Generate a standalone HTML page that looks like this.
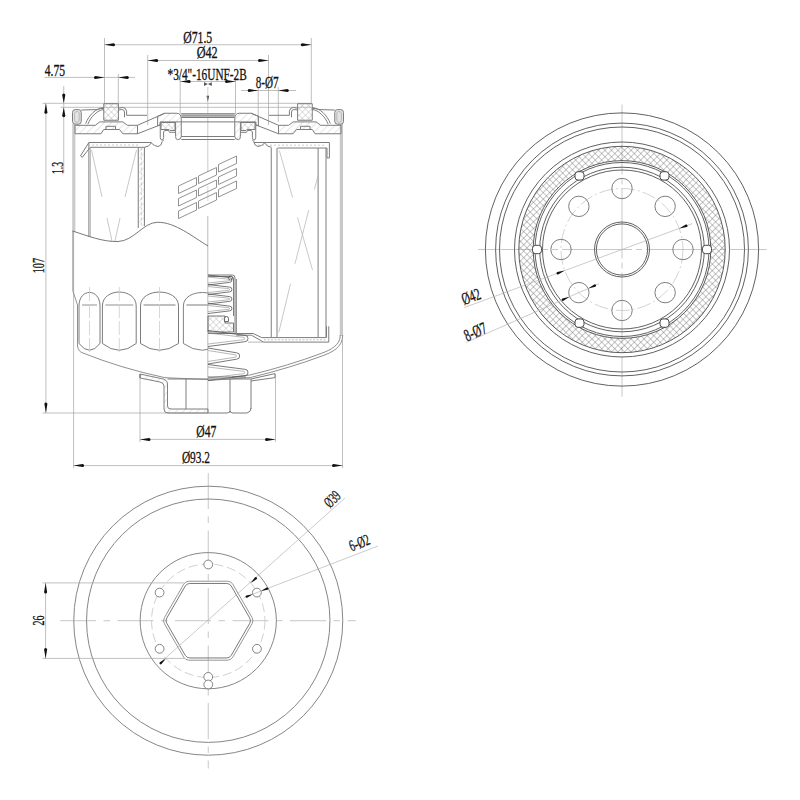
<!DOCTYPE html>
<html><head><meta charset="utf-8"><style>
html,body{margin:0;padding:0;background:#fff;width:800px;height:800px;overflow:hidden}
svg{display:block}
text{font-family:"Liberation Serif",serif;fill:#111;stroke:#111;stroke-width:0.3px}
</style></head><body>
<svg width="800" height="800" viewBox="0 0 800 800">
<rect width="800" height="800" fill="#fff"/>
<defs>
<pattern id="hh" patternUnits="userSpaceOnUse" width="5" height="5" patternTransform="rotate(45)"><line x1="0" y1="0" x2="0" y2="5" stroke="#a8a8a8" stroke-width="0.6"/></pattern>
<pattern id="xh" patternUnits="userSpaceOnUse" width="4.5" height="4.5" patternTransform="rotate(45)"><line x1="0" y1="0" x2="0" y2="4.5" stroke="#999" stroke-width="0.6"/><line x1="0" y1="0" x2="4.5" y2="0" stroke="#999" stroke-width="0.6"/></pattern>
<pattern id="xh2" patternUnits="userSpaceOnUse" width="4.6" height="4.6" patternTransform="rotate(45)"><line x1="0" y1="0" x2="0" y2="4.6" stroke="#6a6a6a" stroke-width="0.75"/><line x1="0" y1="0" x2="4.6" y2="0" stroke="#6a6a6a" stroke-width="0.75"/></pattern>
</defs>
<line x1="104.50" y1="38.00" x2="104.50" y2="103.00" stroke="#aaaaaa" stroke-width="0.75" fill="none"/>
<line x1="311.30" y1="38.00" x2="311.30" y2="103.00" stroke="#aaaaaa" stroke-width="0.75" fill="none"/>
<line x1="104.50" y1="44.75" x2="311.30" y2="44.75" stroke="#aaaaaa" stroke-width="0.75" fill="none"/>
<path d="M104.50,44.75 L113.50,43.25 A1.50,1.50 0 0 1 113.50,46.25 Z" fill="#111"/>
<path d="M311.30,44.75 L302.30,46.25 A1.50,1.50 0 0 1 302.30,43.25 Z" fill="#111"/>
<text x="183.2" y="42.5" font-size="17" textLength="29" lengthAdjust="spacingAndGlyphs" text-anchor="start">Ø71.5</text>
<line x1="147.70" y1="55.00" x2="147.70" y2="125.00" stroke="#aaaaaa" stroke-width="0.75" fill="none"/>
<line x1="268.50" y1="55.00" x2="268.50" y2="125.00" stroke="#aaaaaa" stroke-width="0.75" fill="none"/>
<line x1="147.70" y1="60.50" x2="268.50" y2="60.50" stroke="#aaaaaa" stroke-width="0.75" fill="none"/>
<path d="M147.70,60.50 L156.70,59.00 A1.50,1.50 0 0 1 156.70,62.00 Z" fill="#111"/>
<path d="M268.50,60.50 L259.50,62.00 A1.50,1.50 0 0 1 259.50,59.00 Z" fill="#111"/>
<text x="196.7" y="58.2" font-size="17" textLength="21" lengthAdjust="spacingAndGlyphs" text-anchor="start">Ø42</text>
<line x1="180.20" y1="78.00" x2="180.20" y2="114.00" stroke="#aaaaaa" stroke-width="0.75" fill="none"/>
<line x1="235.50" y1="78.00" x2="235.50" y2="114.00" stroke="#aaaaaa" stroke-width="0.75" fill="none"/>
<line x1="180.20" y1="81.50" x2="235.50" y2="81.50" stroke="#aaaaaa" stroke-width="0.75" fill="none"/>
<path d="M180.20,81.50 L189.20,80.00 A1.50,1.50 0 0 1 189.20,83.00 Z" fill="#111"/>
<path d="M235.50,81.50 L226.50,83.00 A1.50,1.50 0 0 1 226.50,80.00 Z" fill="#111"/>
<text x="167.5" y="79.7" font-size="17" textLength="79.3" lengthAdjust="spacingAndGlyphs" text-anchor="start">*3/4"-16UNF-2B</text>
<line x1="44.40" y1="77.40" x2="135.00" y2="77.40" stroke="#aaaaaa" stroke-width="0.75" fill="none"/>
<line x1="118.30" y1="74.00" x2="118.30" y2="103.00" stroke="#aaaaaa" stroke-width="0.75" fill="none"/>
<path d="M104.50,77.40 L95.50,78.90 A1.50,1.50 0 0 1 95.50,75.90 Z" fill="#111"/>
<path d="M118.30,77.40 L127.30,75.90 A1.50,1.50 0 0 1 127.30,78.90 Z" fill="#111"/>
<text x="44.75" y="76" font-size="17" textLength="20.3" lengthAdjust="spacingAndGlyphs" text-anchor="start">4.75</text>
<line x1="241.00" y1="90.50" x2="296.00" y2="90.50" stroke="#aaaaaa" stroke-width="0.75" fill="none"/>
<line x1="258.20" y1="87.00" x2="258.20" y2="122.00" stroke="#aaaaaa" stroke-width="0.75" fill="none"/>
<line x1="278.30" y1="87.00" x2="278.30" y2="122.00" stroke="#aaaaaa" stroke-width="0.75" fill="none"/>
<path d="M258.20,90.50 L249.20,92.00 A1.50,1.50 0 0 1 249.20,89.00 Z" fill="#111"/>
<path d="M278.30,90.50 L287.30,89.00 A1.50,1.50 0 0 1 287.30,92.00 Z" fill="#111"/>
<text x="255.8" y="88.2" font-size="17" textLength="22.9" lengthAdjust="spacingAndGlyphs" text-anchor="start">8-Ø7</text>
<path d="M204,82.3 L207.9,84.1 L211.8,82.3 L211.8,85.9 L207.9,84.1 L204,85.9 Z" fill="#555"/>
<line x1="207.80" y1="87.00" x2="207.80" y2="95.00" stroke="#c8c8c8" stroke-width="0.8"/>
<path d="M206.6,95.8 L209,95.8 L207.8,102 Z" fill="#111"/>
<line x1="42.50" y1="103.30" x2="311.50" y2="103.30" stroke="#aaaaaa" stroke-width="0.75" fill="none"/>
<line x1="60.60" y1="107.30" x2="311.50" y2="107.30" stroke="#aaaaaa" stroke-width="0.75" fill="none"/>
<line x1="45.90" y1="103.30" x2="45.90" y2="413.00" stroke="#aaaaaa" stroke-width="0.75" fill="none"/>
<path d="M45.90,103.30 L47.40,112.30 A1.50,1.50 0 0 1 44.40,112.30 Z" fill="#111"/>
<path d="M45.90,413.00 L44.40,404.00 A1.50,1.50 0 0 1 47.40,404.00 Z" fill="#111"/>
<line x1="42.50" y1="413.00" x2="208.00" y2="413.00" stroke="#aaaaaa" stroke-width="0.75" fill="none"/>
<text x="44.25" y="273.3" font-size="17" textLength="15.3" lengthAdjust="spacingAndGlyphs" transform="rotate(-90 44.25 273.3)" text-anchor="start">107</text>
<line x1="63.75" y1="86.00" x2="63.75" y2="173.00" stroke="#aaaaaa" stroke-width="0.75" fill="none"/>
<path d="M63.75,103.20 L62.20,95.00 A1.55,1.55 0 0 1 65.30,95.00 Z" fill="#111"/>
<path d="M63.75,107.40 L65.30,115.60 A1.55,1.55 0 0 1 62.20,115.60 Z" fill="#111"/>
<text x="63" y="174" font-size="17" textLength="12.1" lengthAdjust="spacingAndGlyphs" transform="rotate(-90 63 174)" text-anchor="start">1.3</text>
<line x1="140.00" y1="374.00" x2="140.00" y2="442.00" stroke="#aaaaaa" stroke-width="0.75" fill="none"/>
<line x1="275.50" y1="374.00" x2="275.50" y2="442.00" stroke="#aaaaaa" stroke-width="0.75" fill="none"/>
<line x1="140.00" y1="439.40" x2="275.50" y2="439.40" stroke="#aaaaaa" stroke-width="0.75" fill="none"/>
<path d="M140.00,439.40 L149.00,437.90 A1.50,1.50 0 0 1 149.00,440.90 Z" fill="#111"/>
<path d="M275.50,439.40 L266.50,440.90 A1.50,1.50 0 0 1 266.50,437.90 Z" fill="#111"/>
<text x="196.25" y="437.25" font-size="17" textLength="20" lengthAdjust="spacingAndGlyphs" text-anchor="start">Ø47</text>
<line x1="73.60" y1="231.00" x2="73.60" y2="468.00" stroke="#aaaaaa" stroke-width="0.75" fill="none"/>
<line x1="342.50" y1="340.00" x2="342.50" y2="468.00" stroke="#aaaaaa" stroke-width="0.75" fill="none"/>
<line x1="73.60" y1="465.60" x2="342.50" y2="465.60" stroke="#aaaaaa" stroke-width="0.75" fill="none"/>
<path d="M73.60,465.60 L82.60,464.10 A1.50,1.50 0 0 1 82.60,467.10 Z" fill="#111"/>
<path d="M342.50,465.60 L333.50,467.10 A1.50,1.50 0 0 1 333.50,464.10 Z" fill="#111"/>
<text x="181.9" y="463.1" font-size="17" textLength="28.1" lengthAdjust="spacingAndGlyphs" text-anchor="start">Ø93.2</text>
<line x1="207.80" y1="95.00" x2="207.80" y2="172.00" stroke="#bdbdbd" stroke-width="0.8"/>
<line x1="207.80" y1="186.00" x2="207.80" y2="201.00" stroke="#cfcfcf" stroke-width="0.8"/>
<line x1="207.80" y1="216.00" x2="207.80" y2="413.00" stroke="#a8a8a8" stroke-width="0.8"/>
<rect x="72.2" y="124" width="3.2" height="107.5" fill="#cbcbcb"/>
<path d="M72.9,231 L72.9,291 L77.5,305 L77.5,346 Q78.5,352 83,353 Q120,368 165,377.7 L208,379.5" stroke="#8a8a8a" stroke-width="0.95" fill="none"/>
<rect x="339.8" y="124" width="3.2" height="212" fill="#c8c8c8"/>
<path d="M342.6,335 L342.6,336 C342.6,347 332,352.5 322.5,355.8 Q290,368 250.6,377.5 L208,380.5" stroke="#888" stroke-width="0.95" fill="none"/>
<path d="M340.2,335 L340.2,336 C340.2,345 330.5,350 321.5,353.3 Q289,365.5 250,375 L232,377" stroke="#888" stroke-width="0.95" fill="none"/>
<path d="M81.25,112.50 Q81.25,109.60 78.50,109.60 L75.30,109.60 Q72.50,109.60 72.50,112.50 L72.50,121.40 Q72.50,124.20 75.30,124.20 L78.50,124.20 Q81.25,124.20 81.25,121.40 Z" fill="#e6e6e6" stroke="none"/>
<path d="M81.25,112.50 Q81.25,109.60 78.50,109.60 L75.30,109.60 Q72.50,109.60 72.50,112.50 L72.50,121.40 Q72.50,124.20 75.30,124.20 L78.50,124.20 Q81.25,124.20 81.25,121.40 Z" stroke="#7c7c7c" stroke-width="1" fill="none"/>
<path d="M79.20,113.50 Q79.20,111.60 77.50,111.60 L76.30,111.60 Q74.60,111.60 74.60,113.50 L74.60,120.30 Q74.60,122.20 76.30,122.20 L77.50,122.20 Q79.20,122.20 79.20,120.30 Z" fill="#e4e4e4" stroke="none"/>
<path d="M79.20,113.50 Q79.20,111.60 77.50,111.60 L76.30,111.60 Q74.60,111.60 74.60,113.50 L74.60,120.30 Q74.60,122.20 76.30,122.20 L77.50,122.20 Q79.20,122.20 79.20,120.30 Z" stroke="#aaa" stroke-width="0.8" fill="none"/>
<path d="M81.25,110.00 L97.00,109.60 Q101.00,108.20 103.75,108.20" stroke="#7c7c7c" stroke-width="1" fill="none"/>
<path d="M103.75,107.70 C96.00,108.00 89.00,115.00 85.60,123.60" stroke="#7c7c7c" stroke-width="1" fill="none"/>
<path d="M103.75,109.60 C97.50,110.00 91.00,116.50 87.80,124.20" stroke="#7c7c7c" stroke-width="1" fill="none"/>
<path d="M103.75,103.70 L118.40,103.70 L118.40,120.25 L103.75,120.25 Z" fill="url(#xh)" stroke="none"/>
<path d="M103.75,103.70 L118.40,103.70 L118.40,120.25 L103.75,120.25 Z" stroke="#7c7c7c" stroke-width="1" fill="none"/>
<path d="M118.40,108.30 L122.50,107.40 Q126.30,107.60 126.60,111.20 L126.60,115.30 L147.00,115.30" stroke="#7c7c7c" stroke-width="1" fill="none"/>
<path d="M118.40,110.20 L121.80,109.40 Q124.30,109.60 124.50,112.00 L124.50,117.30" stroke="#7c7c7c" stroke-width="1" fill="none"/>
<path d="M103.75,108.30 L101.50,108.80" stroke="#7c7c7c" stroke-width="1" fill="none"/>
<path d="M75.00,125.30 L95.30,125.30 L99.80,121.90 L122.90,121.90 L127.40,125.30 L137.50,125.30 L137.50,133.75 L122.90,133.75 L119.50,129.50 L103.75,129.50 L101.00,133.75 L75.00,133.75 Z" fill="url(#hh)" stroke="none"/>
<path d="M75.00,125.30 L95.30,125.30 L99.80,121.90 L122.90,121.90 L127.40,125.30 L137.50,125.30 L137.50,133.75 L122.90,133.75 L119.50,129.50 L103.75,129.50 L101.00,133.75 L75.00,133.75 Z" stroke="#7c7c7c" stroke-width="1" fill="none"/>
<path d="M106.00,129.50 L106.00,126.30 L115.50,126.30 L115.50,129.50" stroke="#7c7c7c" stroke-width="1" fill="none"/>
<path d="M137.50,125.30 L164.75,113.25" stroke="#7c7c7c" stroke-width="1" fill="none"/>
<path d="M137.50,133.75 L160.25,124.90" stroke="#7c7c7c" stroke-width="1" fill="none"/>
<path d="M157.60,116.25 L164.75,113.25 L176.75,113.25 Q181.25,113.50 181.25,118.50 L181.25,136.50 Q181.00,139.70 177.50,139.70 Q175.60,139.50 175.60,136.50 L175.60,121.90 L160.25,121.90 L160.25,124.90 L157.60,125.90 Z" fill="url(#hh)" stroke="none"/>
<path d="M157.60,116.25 L164.75,113.25 L176.75,113.25 Q181.25,113.50 181.25,118.50 L181.25,136.50 Q181.00,139.70 177.50,139.70 Q175.60,139.50 175.60,136.50 L175.60,121.90 L160.25,121.90 L160.25,124.90 L157.60,125.90 Z" stroke="#7c7c7c" stroke-width="1" fill="none"/>
<path d="M160.25,121.90 L160.25,137.50 Q160.50,140.00 162.00,140.00 Q163.60,140.00 163.60,137.50 L163.60,132.00 Q164.00,130.40 166.00,130.40 L168.50,130.40 L169.50,132.30 L175.60,132.30" stroke="#7c7c7c" stroke-width="1" fill="none"/>
<path d="M161.00,122.50 L175.00,122.50 L175.00,130.50 L170.00,130.50 L169.00,129.50 L161.00,129.50 Z" fill="url(#xh)" stroke="none"/>
<path d="M161.00,122.50 L175.00,122.50 L175.00,130.50 L170.00,130.50 L169.00,129.50 L161.00,129.50 Z" stroke="#7c7c7c" stroke-width="1" fill="none"/>
<path d="M144.40,147.30 Q149.00,147.00 151.30,143.00 Q154.50,146.30 158.00,146.50 Q161.60,146.00 162.20,141.50 L163.60,140.00" stroke="#7c7c7c" stroke-width="1" fill="none"/>
<path d="M138.25,142.50 L151.30,142.50" stroke="#7c7c7c" stroke-width="1" fill="none"/>
<path d="M334.75,112.50 Q334.75,109.60 337.50,109.60 L340.70,109.60 Q343.50,109.60 343.50,112.50 L343.50,121.40 Q343.50,124.20 340.70,124.20 L337.50,124.20 Q334.75,124.20 334.75,121.40 Z" fill="#e6e6e6" stroke="none"/>
<path d="M334.75,112.50 Q334.75,109.60 337.50,109.60 L340.70,109.60 Q343.50,109.60 343.50,112.50 L343.50,121.40 Q343.50,124.20 340.70,124.20 L337.50,124.20 Q334.75,124.20 334.75,121.40 Z" stroke="#7c7c7c" stroke-width="1" fill="none"/>
<path d="M336.80,113.50 Q336.80,111.60 338.50,111.60 L339.70,111.60 Q341.40,111.60 341.40,113.50 L341.40,120.30 Q341.40,122.20 339.70,122.20 L338.50,122.20 Q336.80,122.20 336.80,120.30 Z" fill="#e4e4e4" stroke="none"/>
<path d="M336.80,113.50 Q336.80,111.60 338.50,111.60 L339.70,111.60 Q341.40,111.60 341.40,113.50 L341.40,120.30 Q341.40,122.20 339.70,122.20 L338.50,122.20 Q336.80,122.20 336.80,120.30 Z" stroke="#aaa" stroke-width="0.8" fill="none"/>
<path d="M334.75,110.00 L319.00,109.60 Q315.00,108.20 312.25,108.20" stroke="#7c7c7c" stroke-width="1" fill="none"/>
<path d="M312.25,107.70 C320.00,108.00 327.00,115.00 330.40,123.60" stroke="#7c7c7c" stroke-width="1" fill="none"/>
<path d="M312.25,109.60 C318.50,110.00 325.00,116.50 328.20,124.20" stroke="#7c7c7c" stroke-width="1" fill="none"/>
<path d="M312.25,103.70 L297.60,103.70 L297.60,120.25 L312.25,120.25 Z" fill="url(#xh)" stroke="none"/>
<path d="M312.25,103.70 L297.60,103.70 L297.60,120.25 L312.25,120.25 Z" stroke="#7c7c7c" stroke-width="1" fill="none"/>
<path d="M297.60,108.30 L293.50,107.40 Q289.70,107.60 289.40,111.20 L289.40,115.30 L269.00,115.30" stroke="#7c7c7c" stroke-width="1" fill="none"/>
<path d="M297.60,110.20 L294.20,109.40 Q291.70,109.60 291.50,112.00 L291.50,117.30" stroke="#7c7c7c" stroke-width="1" fill="none"/>
<path d="M312.25,108.30 L314.50,108.80" stroke="#7c7c7c" stroke-width="1" fill="none"/>
<path d="M341.00,125.30 L320.70,125.30 L316.20,121.90 L293.10,121.90 L288.60,125.30 L278.50,125.30 L278.50,133.75 L293.10,133.75 L296.50,129.50 L312.25,129.50 L315.00,133.75 L341.00,133.75 Z" fill="url(#hh)" stroke="none"/>
<path d="M341.00,125.30 L320.70,125.30 L316.20,121.90 L293.10,121.90 L288.60,125.30 L278.50,125.30 L278.50,133.75 L293.10,133.75 L296.50,129.50 L312.25,129.50 L315.00,133.75 L341.00,133.75 Z" stroke="#7c7c7c" stroke-width="1" fill="none"/>
<path d="M310.00,129.50 L310.00,126.30 L300.50,126.30 L300.50,129.50" stroke="#7c7c7c" stroke-width="1" fill="none"/>
<path d="M278.50,125.30 L251.25,113.25" stroke="#7c7c7c" stroke-width="1" fill="none"/>
<path d="M278.50,133.75 L255.75,124.90" stroke="#7c7c7c" stroke-width="1" fill="none"/>
<path d="M258.40,116.25 L251.25,113.25 L239.25,113.25 Q234.75,113.50 234.75,118.50 L234.75,136.50 Q235.00,139.70 238.50,139.70 Q240.40,139.50 240.40,136.50 L240.40,121.90 L255.75,121.90 L255.75,124.90 L258.40,125.90 Z" fill="url(#hh)" stroke="none"/>
<path d="M258.40,116.25 L251.25,113.25 L239.25,113.25 Q234.75,113.50 234.75,118.50 L234.75,136.50 Q235.00,139.70 238.50,139.70 Q240.40,139.50 240.40,136.50 L240.40,121.90 L255.75,121.90 L255.75,124.90 L258.40,125.90 Z" stroke="#7c7c7c" stroke-width="1" fill="none"/>
<path d="M255.75,121.90 L255.75,137.50 Q255.50,140.00 254.00,140.00 Q252.40,140.00 252.40,137.50 L252.40,132.00 Q252.00,130.40 250.00,130.40 L247.50,130.40 L246.50,132.30 L240.40,132.30" stroke="#7c7c7c" stroke-width="1" fill="none"/>
<path d="M255.00,122.50 L241.00,122.50 L241.00,130.50 L246.00,130.50 L247.00,129.50 L255.00,129.50 Z" fill="url(#xh)" stroke="none"/>
<path d="M255.00,122.50 L241.00,122.50 L241.00,130.50 L246.00,130.50 L247.00,129.50 L255.00,129.50 Z" stroke="#7c7c7c" stroke-width="1" fill="none"/>
<path d="M271.60,147.30 Q267.00,147.00 264.70,143.00 Q261.50,146.30 258.00,146.50 Q254.40,146.00 253.80,141.50 L252.40,140.00" stroke="#7c7c7c" stroke-width="1" fill="none"/>
<path d="M277.75,142.50 L264.70,142.50" stroke="#7c7c7c" stroke-width="1" fill="none"/>
<line x1="181.25" y1="113.50" x2="234.75" y2="113.50" stroke="#7c7c7c" stroke-width="1" fill="none"/>
<rect x="181.25" y="113.5" width="53.5" height="4" fill="#b5b5b5"/>
<line x1="181.25" y1="115.50" x2="234.75" y2="115.50" stroke="#999" stroke-width="0.7" fill="none"/>
<line x1="181.25" y1="117.50" x2="234.75" y2="117.50" stroke="#7c7c7c" stroke-width="1" fill="none"/>
<line x1="175.60" y1="121.90" x2="240.40" y2="121.90" stroke="#7c7c7c" stroke-width="1" fill="none"/>
<line x1="181.25" y1="136.50" x2="234.75" y2="136.50" stroke="#7c7c7c" stroke-width="1" fill="none"/>
<line x1="181.25" y1="139.50" x2="234.75" y2="139.50" stroke="#7c7c7c" stroke-width="1" fill="none"/>
<path d="M88.9,142.5 L151.3,142.5" stroke="#7c7c7c" stroke-width="1" fill="none"/>
<path d="M90.2,147.3 L144.4,147.3" stroke="#7c7c7c" stroke-width="1" fill="none"/>
<line x1="92.00" y1="145.00" x2="138.00" y2="145.00" stroke="#aaa" stroke-width="0.6" stroke-dasharray="2 2"/>
<path d="M88.9,142.5 L80.5,155.8 L82.3,157.3 L90.2,147.3" stroke="#7c7c7c" stroke-width="1" fill="none"/>
<line x1="88.90" y1="142.50" x2="88.90" y2="236.50" stroke="#7c7c7c" stroke-width="1" fill="none"/>
<line x1="90.40" y1="147.30" x2="90.40" y2="237.00" stroke="#aaa" stroke-width="0.8"/>
<line x1="138.25" y1="147.30" x2="138.25" y2="228.00" stroke="#7c7c7c" stroke-width="1" fill="none"/>
<line x1="144.40" y1="147.30" x2="144.40" y2="226.00" stroke="#7c7c7c" stroke-width="1" fill="none"/>
<rect x="138.6" y="147.5" width="5.5" height="79" fill="url(#hh)"/>
<line x1="141.30" y1="147.30" x2="141.30" y2="226.00" stroke="#aaa" stroke-width="0.6" stroke-dasharray="3 2"/>
<line x1="91.50" y1="150.00" x2="102.00" y2="197.00" stroke="#b0b0b0" stroke-width="0.7" fill="none"/>
<line x1="136.50" y1="150.00" x2="125.00" y2="197.00" stroke="#b0b0b0" stroke-width="0.7" fill="none"/>
<line x1="107.00" y1="218.00" x2="112.00" y2="241.00" stroke="#b0b0b0" stroke-width="0.7" fill="none"/>
<line x1="120.00" y1="218.00" x2="115.00" y2="241.00" stroke="#b0b0b0" stroke-width="0.7" fill="none"/>
<path d="M72.6,231 C88,236 103,242 118,241.5 C134,241 143,222.5 157.5,222.25 C175,222 193,237 208,246" stroke="#555" stroke-width="0.8" fill="none"/>
<path d="M178.50,186.00 L196.50,177.50 L196.50,185.00 L178.50,193.50 Z" stroke="#777" stroke-width="0.8" fill="none"/>
<path d="M178.50,198.50 L196.50,190.00 L196.50,197.50 L178.50,206.00 Z" stroke="#777" stroke-width="0.8" fill="none"/>
<path d="M178.50,211.00 L196.50,202.50 L196.50,210.00 L178.50,218.50 Z" stroke="#777" stroke-width="0.8" fill="none"/>
<path d="M198.50,176.00 L216.50,167.50 L216.50,175.00 L198.50,183.50 Z" stroke="#777" stroke-width="0.8" fill="none"/>
<path d="M198.50,188.50 L216.50,180.00 L216.50,187.50 L198.50,196.00 Z" stroke="#777" stroke-width="0.8" fill="none"/>
<path d="M198.50,201.00 L216.50,192.50 L216.50,200.00 L198.50,208.50 Z" stroke="#777" stroke-width="0.8" fill="none"/>
<path d="M218.50,164.50 L236.50,156.00 L236.50,163.50 L218.50,172.00 Z" stroke="#777" stroke-width="0.8" fill="none"/>
<path d="M218.50,177.00 L236.50,168.50 L236.50,176.00 L218.50,184.50 Z" stroke="#777" stroke-width="0.8" fill="none"/>
<path d="M218.50,189.50 L236.50,181.00 L236.50,188.50 L218.50,197.00 Z" stroke="#777" stroke-width="0.8" fill="none"/>
<path d="M253.8,142.5 L329.4,142.5 L329.4,158 L327,158 L327,148 L277.5,148" stroke="#7c7c7c" stroke-width="1" fill="none"/>
<line x1="258.00" y1="145.20" x2="326.00" y2="145.20" stroke="#aaa" stroke-width="0.6" stroke-dasharray="2 2"/>
<line x1="271.25" y1="148.00" x2="271.25" y2="337.00" stroke="#7c7c7c" stroke-width="1" fill="none"/>
<line x1="277.00" y1="148.00" x2="277.00" y2="337.00" stroke="#7c7c7c" stroke-width="1" fill="none"/>
<line x1="318.10" y1="148.00" x2="318.10" y2="337.00" stroke="#7c7c7c" stroke-width="1" fill="none"/>
<line x1="326.00" y1="148.00" x2="326.00" y2="337.00" stroke="#7c7c7c" stroke-width="1" fill="none"/>
<line x1="279.40" y1="150.60" x2="292.50" y2="197.50" stroke="#b0b0b0" stroke-width="0.7" fill="none"/>
<line x1="318.00" y1="176.00" x2="314.40" y2="189.50" stroke="#b0b0b0" stroke-width="0.7" fill="none"/>
<line x1="297.50" y1="217.50" x2="312.50" y2="270.00" stroke="#b0b0b0" stroke-width="0.7" fill="none"/>
<line x1="308.75" y1="210.00" x2="295.00" y2="263.75" stroke="#b0b0b0" stroke-width="0.7" fill="none"/>
<line x1="290.50" y1="283.75" x2="278.75" y2="332.50" stroke="#b0b0b0" stroke-width="0.7" fill="none"/>
<path d="M236.3,333.5 L253.1,333.5 L261.75,337.6 L326.5,337.6 L326.5,326.25" stroke="#7c7c7c" stroke-width="1" fill="none"/>
<path d="M236.3,335.2 L251.5,335.2 L263.6,342.1 L328.75,342.1 L328.75,326.25" stroke="#7c7c7c" stroke-width="1" fill="none"/>
<line x1="248.00" y1="342.10" x2="263.60" y2="342.10" stroke="#999" stroke-width="0.7" fill="none"/>
<line x1="264.00" y1="339.80" x2="326.00" y2="339.80" stroke="#aaa" stroke-width="0.7" stroke-dasharray="2 1.5"/>
<path d="M79,306 C79,287.9 100,287.9 100,306 L100,343.5 Q89.5,357 79,343.5 Z" stroke="#7c7c7c" stroke-width="1" fill="none"/>
<line x1="82.00" y1="305.00" x2="97.00" y2="305.00" stroke="#aaa" stroke-width="1.3"/>
<line x1="89.50" y1="287.00" x2="89.50" y2="352.00" stroke="#cdcdcd" stroke-width="0.8" stroke-dasharray="14 3"/>
<path d="M102.4,306 C102.4,287.4 136.2,287.4 136.2,306 L136.2,343.5 Q119.3,357 102.4,343.5 Z" stroke="#7c7c7c" stroke-width="1" fill="none"/>
<line x1="105.40" y1="305.00" x2="133.20" y2="305.00" stroke="#aaa" stroke-width="1.3"/>
<line x1="119.30" y1="287.00" x2="119.30" y2="352.00" stroke="#cdcdcd" stroke-width="0.8" stroke-dasharray="14 3"/>
<path d="M140.5,306 C140.5,287.4 178.5,287.4 178.5,306 L178.5,343.5 Q159.5,357 140.5,343.5 Z" stroke="#7c7c7c" stroke-width="1" fill="none"/>
<line x1="143.50" y1="305.00" x2="175.50" y2="305.00" stroke="#aaa" stroke-width="1.3"/>
<line x1="159.50" y1="287.00" x2="159.50" y2="352.00" stroke="#cdcdcd" stroke-width="0.8" stroke-dasharray="14 3"/>
<clipPath id="lc"><rect x="0" y="0" width="207.8" height="800"/></clipPath>
<path d="M183.4,306 C183.4,288 221.4,288 221.4,306 L221.4,343.5 Q202.4,357 183.4,343.5 Z" stroke="#737373" stroke-width="0.9" fill="none" clip-path="url(#lc)"/>
<line x1="186.40" y1="305.00" x2="207.80" y2="305.00" stroke="#999" stroke-width="1.3"/>
<path d="M208,275 L232.5,275 Q235,275 235,278 L235,333" stroke="#7c7c7c" stroke-width="1" fill="none"/>
<path d="M208,276.5 L231.5,276.5 Q233.5,276.5 233.5,279 L233.5,316" stroke="#7c7c7c" stroke-width="1" fill="none"/>
<line x1="236.30" y1="279.00" x2="236.30" y2="333.00" stroke="#7c7c7c" stroke-width="1" fill="none"/>
<path d="M208,275 L229.5,277.6 A2.4,2.4 0 0 1 229.5,282.4 L208,285" stroke="#555" stroke-width="0.8" fill="none"/>
<path d="M208,277 L228.8,279.2 A0.8,0.8 0 0 1 228.8,280.8 L208,283" stroke="#888" stroke-width="0.6" fill="none"/>
<path d="M208,284.5 L229.5,287.1 A2.4,2.4 0 0 1 229.5,291.9 L208,294.5" stroke="#555" stroke-width="0.8" fill="none"/>
<path d="M208,286.5 L228.8,288.7 A0.8,0.8 0 0 1 228.8,290.3 L208,292.5" stroke="#888" stroke-width="0.6" fill="none"/>
<path d="M208,294 L229.5,296.6 A2.4,2.4 0 0 1 229.5,301.4 L208,304" stroke="#555" stroke-width="0.8" fill="none"/>
<path d="M208,296 L228.8,298.2 A0.8,0.8 0 0 1 228.8,299.8 L208,302" stroke="#888" stroke-width="0.6" fill="none"/>
<path d="M208,303.5 L229.5,306.1 A2.4,2.4 0 0 1 229.5,310.9 L208,313.5" stroke="#555" stroke-width="0.8" fill="none"/>
<path d="M208,305.5 L228.8,307.7 A0.8,0.8 0 0 1 228.8,309.3 L208,311.5" stroke="#888" stroke-width="0.6" fill="none"/>
<path d="M208,316 L225,316 L225,323 L233.5,323 L233.5,332 L208,332 Z" fill="url(#xh)" stroke="#555" stroke-width="0.8"/>
<path d="M224.5,318.5 Q224.5,316.5 226.5,316.5 Q228.5,316.5 228.5,318.5 L228.5,321.5 L224.5,321.5 Z" stroke="#444" stroke-width="0.8" fill="#fff"/>
<circle cx="230.50" cy="278.00" r="2.00" stroke="#555" stroke-width="0.8" fill="none"/>
<line x1="208.00" y1="333.50" x2="236.00" y2="333.50" stroke="#555" stroke-width="0.8" fill="none"/>
<path d="M208,330.5 L244.8,335.3 A3.2,3.2 0 0 1 244.8,341.7 L208,346.5" stroke="#555" stroke-width="0.8" fill="none"/>
<path d="M208,333.0 L243.5,337.3 A1.2,1.2 0 0 1 243.5,339.7 L208,344.0" stroke="#888" stroke-width="0.6" fill="none"/>
<path d="M208,348 L236.5,352.8 A3.2,3.2 0 0 1 236.5,359.2 L208,364" stroke="#555" stroke-width="0.8" fill="none"/>
<path d="M208,350.5 L235.2,354.8 A1.2,1.2 0 0 1 235.2,357.2 L208,361.5" stroke="#888" stroke-width="0.6" fill="none"/>
<path d="M208,364.5 L244.8,369.3 A3.2,3.2 0 0 1 244.8,375.7 L208,380.5" stroke="#555" stroke-width="0.8" fill="none"/>
<path d="M208,367.0 L243.5,371.3 A1.2,1.2 0 0 1 243.5,373.7 L208,378.0" stroke="#888" stroke-width="0.6" fill="none"/>
<line x1="208.00" y1="377.00" x2="246.00" y2="377.00" stroke="#555" stroke-width="0.8" fill="none"/>
<path d="M140,374 L161,378.5 Q167.5,379.5 167.5,384 L167.5,406 Q167.5,409 171,409 L208,409 L208,413 L168,413 Q164,413 164,409 L164,386 Q164,383 160,382 L140,378 Z" fill="url(#hh)" stroke="#737373" stroke-width="0.9"/>
<line x1="167.50" y1="379.00" x2="251.00" y2="379.00" stroke="#7c7c7c" stroke-width="1" fill="none"/>
<line x1="186.00" y1="379.00" x2="186.00" y2="409.00" stroke="#7c7c7c" stroke-width="1" fill="none"/>
<line x1="230.00" y1="379.00" x2="230.00" y2="413.00" stroke="#7c7c7c" stroke-width="1" fill="none"/>
<line x1="251.00" y1="379.00" x2="251.00" y2="409.00" stroke="#7c7c7c" stroke-width="1" fill="none"/>
<path d="M208,413 L227,413 Q229,413 230,411 Q231,413 233,413 L247,413 Q251,412 251,408" stroke="#7c7c7c" stroke-width="1" fill="none"/>
<path d="M251,379 L275,373.6 L275,377.6 L251,381" stroke="#7c7c7c" stroke-width="1" fill="none"/>
<line x1="140.00" y1="374.00" x2="140.00" y2="378.00" stroke="#7c7c7c" stroke-width="1" fill="none"/>
<line x1="622.00" y1="104.50" x2="622.00" y2="396.60" stroke="#bdbdbd" stroke-width="0.85" fill="none" stroke-dasharray="70 4 6 4"/>
<line x1="478.00" y1="249.50" x2="766.70" y2="249.50" stroke="#bdbdbd" stroke-width="0.85" fill="none" stroke-dasharray="70 4 6 4"/>
<circle cx="622.00" cy="249.50" r="136.60" stroke="#4f4f4f" stroke-width="0.9" fill="none"/>
<circle cx="622.00" cy="249.50" r="126.40" stroke="#4f4f4f" stroke-width="0.9" fill="none"/>
<circle cx="622.00" cy="249.50" r="122.50" stroke="#4f4f4f" stroke-width="0.9" fill="none"/>
<circle cx="622.00" cy="249.50" r="107.50" stroke="#4f4f4f" stroke-width="0.9" fill="none"/>
<path d="M518.8,249.5 A103.2,103.2 0 1 0 725.2,249.5 A103.2,103.2 0 1 0 518.8,249.5 Z M533.2,249.5 A88.8,88.8 0 1 1 710.8,249.5 A88.8,88.8 0 1 1 533.2,249.5 Z" fill="url(#xh2)" fill-rule="evenodd" stroke="#4a4a4a" stroke-width="0.9"/>
<circle cx="622.00" cy="249.50" r="87.00" stroke="#4f4f4f" stroke-width="0.9" fill="none"/>
<circle cx="622.00" cy="249.50" r="82.30" stroke="#4f4f4f" stroke-width="0.9" fill="none"/>
<circle cx="622.00" cy="249.50" r="79.50" stroke="#4f4f4f" stroke-width="0.9" fill="none"/>
<circle cx="622.00" cy="249.50" r="61.00" stroke="#c0c0c0" stroke-width="0.7" fill="none" stroke-dasharray="14 3 2 3"/>
<circle cx="622.00" cy="249.50" r="27.50" stroke="#4f4f4f" stroke-width="0.9" fill="none"/>
<circle cx="622.00" cy="249.50" r="25.60" stroke="#4f4f4f" stroke-width="0.9" fill="none"/>
<circle cx="683.00" cy="249.50" r="10.20" stroke="#777" stroke-width="0.95" fill="none"/>
<circle cx="665.13" cy="292.63" r="10.20" stroke="#777" stroke-width="0.95" fill="none"/>
<circle cx="622.00" cy="310.50" r="10.20" stroke="#777" stroke-width="0.95" fill="none"/>
<circle cx="578.87" cy="292.63" r="10.20" stroke="#777" stroke-width="0.95" fill="none"/>
<circle cx="561.00" cy="249.50" r="10.20" stroke="#777" stroke-width="0.95" fill="none"/>
<circle cx="578.87" cy="206.37" r="10.20" stroke="#777" stroke-width="0.95" fill="none"/>
<circle cx="622.00" cy="188.50" r="10.20" stroke="#777" stroke-width="0.95" fill="none"/>
<circle cx="665.13" cy="206.37" r="10.20" stroke="#777" stroke-width="0.95" fill="none"/>
<rect x="702.50" y="245.30" width="9" height="8.4" rx="3" fill="#fff" stroke="#444" stroke-width="1"/>
<rect x="660.00" y="318.91" width="9" height="8.4" rx="3" fill="#fff" stroke="#444" stroke-width="1"/>
<rect x="575.00" y="318.91" width="9" height="8.4" rx="3" fill="#fff" stroke="#444" stroke-width="1"/>
<rect x="532.50" y="245.30" width="9" height="8.4" rx="3" fill="#fff" stroke="#444" stroke-width="1"/>
<rect x="575.00" y="171.69" width="9" height="8.4" rx="3" fill="#fff" stroke="#444" stroke-width="1"/>
<rect x="660.00" y="171.69" width="9" height="8.4" rx="3" fill="#fff" stroke="#444" stroke-width="1"/>
<line x1="464.40" y1="307.50" x2="692.38" y2="223.60" stroke="#b4b4b4" stroke-width="0.7" fill="none"/>
<path d="M564.75,270.57 L558.16,274.38 A1.30,1.30 0 0 1 557.27,271.94 Z" fill="#111"/>
<path d="M679.25,228.43 L685.84,224.62 A1.30,1.30 0 0 1 686.73,227.06 Z" fill="#111"/>
<text x="464" y="305" font-size="17" textLength="19" lengthAdjust="spacingAndGlyphs" transform="rotate(-20 464 305)" text-anchor="start">Ø42</text>
<line x1="466.25" y1="342.50" x2="598.98" y2="283.73" stroke="#b4b4b4" stroke-width="0.7" fill="none"/>
<path d="M569.54,296.76 L563.48,300.87 A1.30,1.30 0 0 1 562.43,298.49 Z" fill="#111"/>
<path d="M588.19,288.50 L594.25,284.40 A1.30,1.30 0 0 1 595.30,286.78 Z" fill="#111"/>
<text x="467" y="341.5" font-size="17" textLength="23" lengthAdjust="spacingAndGlyphs" transform="rotate(-24 467 341.5)" text-anchor="start">8-Ø7</text>
<line x1="208.25" y1="473.00" x2="208.25" y2="768.50" stroke="#bdbdbd" stroke-width="0.85" fill="none" stroke-dasharray="36 7.5 6.5 7.5"/>
<line x1="60.00" y1="620.70" x2="356.00" y2="620.70" stroke="#bdbdbd" stroke-width="0.85" fill="none" stroke-dasharray="36 7.5 6.5 7.5"/>
<circle cx="208.25" cy="620.70" r="134.50" stroke="#808080" stroke-width="0.95" fill="none"/>
<circle cx="208.25" cy="620.70" r="121.70" stroke="#808080" stroke-width="0.95" fill="none"/>
<circle cx="208.25" cy="620.70" r="68.10" stroke="#808080" stroke-width="0.95" fill="none"/>
<circle cx="208.25" cy="620.70" r="56.70" stroke="#c4c4c4" stroke-width="0.8" fill="none" stroke-dasharray="9 4"/>
<path d="M252.10,617.67 Q253.85,620.70 252.10,623.73 L232.80,657.16 Q231.05,660.19 227.55,660.19 L188.95,660.19 Q185.45,660.19 183.70,657.16 L164.40,623.73 Q162.65,620.70 164.40,617.67 L183.70,584.24 Q185.45,581.21 188.95,581.21 L227.55,581.21 Q231.05,581.21 232.80,584.24 Z" stroke="#8a8a8a" stroke-width="0.9" fill="none"/>
<path d="M249.75,618.10 Q251.25,620.70 249.75,623.30 L231.25,655.34 Q229.75,657.94 226.75,657.94 L189.75,657.94 Q186.75,657.94 185.25,655.34 L166.75,623.30 Q165.25,620.70 166.75,618.10 L185.25,586.06 Q186.75,583.46 189.75,583.46 L226.75,583.46 Q229.75,583.46 231.25,586.06 Z" stroke="#6a6a6a" stroke-width="0.9" fill="none"/>
<circle cx="208.25" cy="564.50" r="4.40" stroke="#666" stroke-width="0.8" fill="#fff"/>
<circle cx="256.92" cy="592.60" r="4.40" stroke="#666" stroke-width="0.8" fill="#fff"/>
<circle cx="256.92" cy="648.80" r="4.40" stroke="#666" stroke-width="0.8" fill="#fff"/>
<circle cx="208.25" cy="676.90" r="4.40" stroke="#666" stroke-width="0.8" fill="#fff"/>
<circle cx="159.58" cy="592.60" r="4.40" stroke="#666" stroke-width="0.8" fill="#fff"/>
<circle cx="159.58" cy="648.80" r="4.40" stroke="#666" stroke-width="0.8" fill="#fff"/>
<circle cx="208.25" cy="684.50" r="4.40" stroke="#666" stroke-width="0.8" fill="#fff"/>
<line x1="42.50" y1="582.90" x2="184.00" y2="582.90" stroke="#aaaaaa" stroke-width="0.75" fill="none"/>
<line x1="42.50" y1="658.40" x2="184.00" y2="658.40" stroke="#aaaaaa" stroke-width="0.75" fill="none"/>
<line x1="45.60" y1="582.90" x2="45.60" y2="658.40" stroke="#aaaaaa" stroke-width="0.75" fill="none"/>
<path d="M45.60,582.90 L47.10,591.90 A1.50,1.50 0 0 1 44.10,591.90 Z" fill="#111"/>
<path d="M45.60,658.40 L44.10,649.40 A1.50,1.50 0 0 1 47.10,649.40 Z" fill="#111"/>
<text x="43.75" y="625.6" font-size="17" textLength="10" lengthAdjust="spacingAndGlyphs" transform="rotate(-90 43.75 625.6)" text-anchor="start">26</text>
<line x1="161.00" y1="662.00" x2="345.00" y2="498.00" stroke="#b4b4b4" stroke-width="0.7" fill="none"/>
<path d="M165.92,658.43 L161.53,664.02 A1.25,1.25 0 0 1 159.87,662.15 Z" fill="#111"/>
<path d="M250.58,582.97 L254.97,577.38 A1.25,1.25 0 0 1 256.63,579.25 Z" fill="#111"/>
<text x="330" y="508.5" font-size="15.5" textLength="16.5" lengthAdjust="spacingAndGlyphs" transform="rotate(-45 330 508.5)" text-anchor="start">Ø39</text>
<line x1="243.85" y1="597.63" x2="378.00" y2="546.00" stroke="#b4b4b4" stroke-width="0.7" fill="none"/>
<path d="M252.81,594.18 L247.18,597.64 A1.20,1.20 0 0 1 246.32,595.40 Z" fill="#111"/>
<path d="M261.03,591.02 L266.66,587.56 A1.20,1.20 0 0 1 267.52,589.80 Z" fill="#111"/>
<text x="351.5" y="551.5" font-size="16" textLength="21" lengthAdjust="spacingAndGlyphs" transform="rotate(-21 351.5 551.5)" text-anchor="start">6-Ø2</text>
</svg>
</body></html>
